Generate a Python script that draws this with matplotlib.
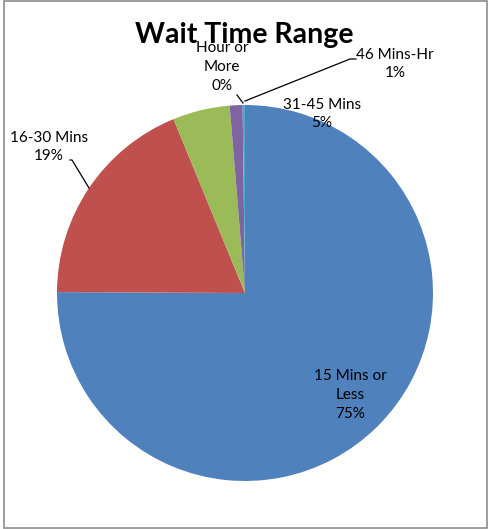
import matplotlib
matplotlib.use("Agg")
import matplotlib.pyplot as plt
from matplotlib.patches import Rectangle

plt.rcParams["font.family"] = ["Lato", "DejaVu Sans"]

# 数据
labels = ["15 Mins or\nLess", "16-30 Mins", "31-45 Mins", "46 Mins-Hr", "Hour or\nMore"]
values = [75.0, 18.7, 4.9, 1.1, 0.2]
pct_text = ["75%", "19%", "5%", "1%", "0%"]
colors = ["#4F81BD", "#C0504D", "#9BBB59", "#8064A2", "#4BACC6"]

W, H = 489, 529
CX, CY, R = 245, 293, 188


def d(px, py):
    # 像素 -> 饼图数据坐标
    return (px - CX) / R, (CY - py) / R


fig = plt.figure(figsize=(W / 100, H / 100), dpi=100)
fig.patch.set_facecolor("white")
fig.patches.append(Rectangle((4 / W, 1 / H), 483 / W, 527 / H, transform=fig.transFigure,
                             fill=False, edgecolor="#8c8c8c", lw=1.2))

ax = fig.add_axes([(CX - R) / W, (H - CY - R) / H, 2 * R / W, 2 * R / H])
ax.pie(values, colors=colors, startangle=90, counterclock=False, radius=1,
       wedgeprops=dict(linewidth=0))
ax.set_xlim(-1, 1); ax.set_ylim(-1, 1)
ax.set_aspect("auto")
ax.axis("off")

# 标签位置（像素）
pos = [(350, 395), (49, 147), (322, 114), (395, 64), (222, 67)]
for lab, pc, (px, py) in zip(labels, pct_text, pos):
    x, y = d(px, py)
    ax.text(x, y, f"{lab}\n{pc}", ha="center", va="center", fontsize=11,
            linespacing=1.45, color="#000000", clip_on=False)

# 引线
leaders = [
    [(70, 160), (72, 160), (89, 188)],
    [(245, 101), (350, 59), (356, 59)],
    [(237, 95), (243, 103)],
]
for seg in leaders:
    xs, ys = zip(*[d(*p) for p in seg])
    ax.plot(xs, ys, color="black", lw=0.9, clip_on=False)

fig.text(244 / W, 1 - 35 / H, "Wait Time Range", ha="center", va="center",
         fontsize=20.5, fontweight="bold", color="black")

plt.savefig("out.png", dpi=100, facecolor="white")
